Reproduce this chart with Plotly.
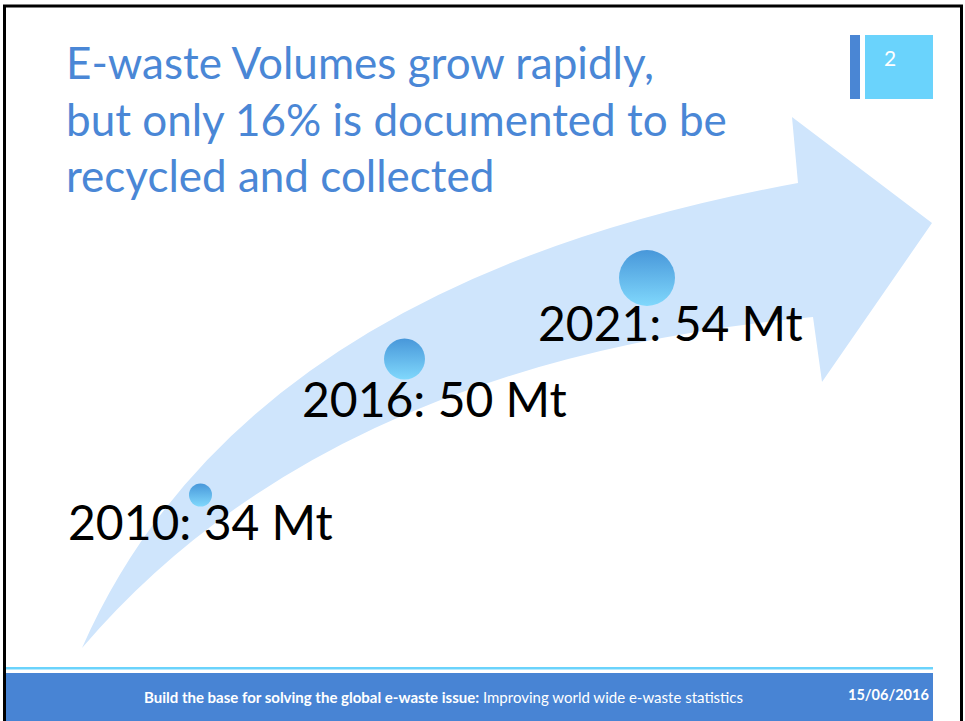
import plotly.graph_objects as go

# ---- data ----
title_lines = ["E-waste Volumes grow rapidly,",
               "but only 16% is documented to be",
               "recycled and collected"]
years = [2010, 2016, 2021]
volumes_mt = [34, 50, 54]
labels = [f"{y}: {v} Mt" for y, v in zip(years, volumes_mt)]
slide_number = "2"
footer_bold = "Build the base for solving the global e-waste issue:"
footer_text = "Improving world wide e-waste statistics"
footer_date = "15/06/2016"

# ---- layout (slide coordinates, px) ----
bubble_x = [200.5, 404.5, 647]
bubble_y = [495, 359, 278]
bubble_d = [23, 41, 56]
label_x = [66, 300, 536]
label_y = [521, 398, 322]
title_y = [62, 119, 175]

FONT = "Lato"
TITLE_BLUE = "#4A87D6"
FOOT_BLUE = "#4884D4"
CYAN = "#6AD3FC"
ARROW = "#CFE5FC"

fig = go.Figure()

fig.add_trace(go.Scatter(
    x=bubble_x, y=bubble_y, mode="markers", hoverinfo="skip",
    text=labels,
    marker=dict(size=bubble_d, color="#0E76CB",
                gradient=dict(type="vertical", color="#5ED2FC"),
                line=dict(width=0)),
    showlegend=False))

shapes = []
# arrow
shapes.append(dict(
    type="path", layer="below", xref="x", yref="y",
    path="M 82,648 Q 242,284 798,183 L 792,117 L 932,223 L 822,382 "
         "L 813,317 Q 325,363 82,648 Z",
    fillcolor=ARROW, line=dict(width=0)))
# footer
shapes.append(dict(type="rect", xref="x", yref="y", x0=6, x1=933, y0=667, y1=669.5,
                   fillcolor=CYAN, line=dict(width=0), layer="below"))
shapes.append(dict(type="rect", xref="x", yref="y", x0=6, x1=933, y0=673, y1=722,
                   fillcolor=FOOT_BLUE, line=dict(width=0), layer="below"))
# slide number box
shapes.append(dict(type="rect", xref="x", yref="y", x0=850, x1=860, y0=35, y1=99,
                   fillcolor="#4A86D4", line=dict(width=0), layer="below"))
shapes.append(dict(type="rect", xref="x", yref="y", x0=865, x1=933, y0=35, y1=99,
                   fillcolor=CYAN, line=dict(width=0), layer="below"))
# frame
for (x0, y0, x1, y1) in [(4.5, 6, 4.5, 722), (3, 6, 963, 6), (961.5, 6, 961.5, 722)]:
    shapes.append(dict(type="line", xref="x", yref="y", x0=x0, y0=y0, x1=x1, y1=y1,
                       line=dict(color="black", width=3)))

ann = []
for t, yy in zip(title_lines, title_y):
    ann.append(dict(x=64, y=yy, xref="x", yref="y", text=t, showarrow=False,
                    xanchor="left", yanchor="middle",
                    font=dict(family=FONT, size=44, color=TITLE_BLUE)))
for t, xx, yy in zip(labels, label_x, label_y):
    ann.append(dict(x=xx, y=yy, xref="x", yref="y", text=t, showarrow=False,
                    xanchor="left", yanchor="middle",
                    font=dict(family=FONT, size=48, color="black")))
ann.append(dict(x=890, y=57, xref="x", yref="y", text=slide_number, showarrow=False,
                xanchor="center", yanchor="middle",
                font=dict(family=FONT, size=21, color="white")))
ann.append(dict(x=443, y=697, xref="x", yref="y",
                text=f"<b>{footer_bold}</b> {footer_text}", showarrow=False,
                xanchor="center", yanchor="middle",
                font=dict(family=FONT, size=15, color="white")))
ann.append(dict(x=931, y=694, xref="x", yref="y", text=f"<b>{footer_date}</b>",
                showarrow=False, xanchor="right", yanchor="middle",
                font=dict(family=FONT, size=14.5, color="white")))

fig.update_layout(
    width=965, height=721, margin=dict(l=0, r=0, t=0, b=0),
    paper_bgcolor="white", plot_bgcolor="white",
    xaxis=dict(range=[0, 965], visible=False, fixedrange=True),
    yaxis=dict(range=[721, 0], visible=False, fixedrange=True),
    shapes=shapes, annotations=ann, showlegend=False, hovermode=False)

fig.write_html("out.html",
               config={"displayModeBar": False, "staticPlot": True},
               post_script="document.body.style.margin='0';"
                           "document.body.style.overflow='hidden';")
